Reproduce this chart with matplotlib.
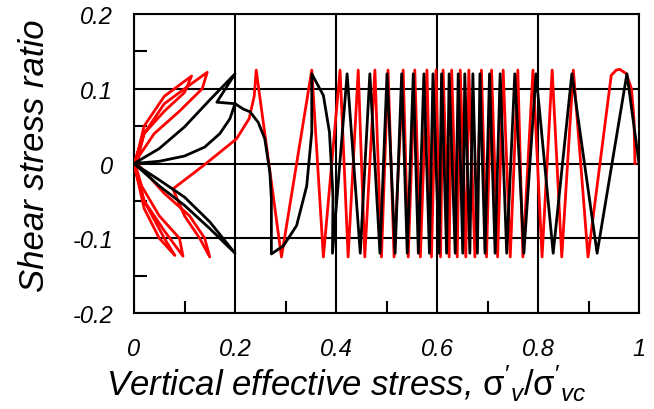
import numpy as np
import matplotlib
matplotlib.use("Agg")
import matplotlib.pyplot as plt

plt.rcParams['font.family'] = ['Liberation Sans', 'DejaVu Sans']
plt.rcParams['mathtext.fontset'] = 'custom'
plt.rcParams['mathtext.rm'] = 'Liberation Sans'
plt.rcParams['mathtext.it'] = 'Liberation Sans:italic'

# axis ticks / labels
x_ticks = [0, 0.2, 0.4, 0.6, 0.8, 1]
x_ticklabels = ['0', '0.2', '0.4', '0.6', '0.8', '1']
y_ticks = [-0.2, -0.1, 0, 0.1, 0.2]
y_ticklabels = ['-0.2', '-0.1', '0', '0.1', '0.2']
x_minor = [0.1, 0.3, 0.5, 0.7, 0.9]
y_minor = [-0.15, -0.05, 0.05, 0.15]

# ---- black test: cyclic phase (turning points, in time order) ----
black_amp = 0.12
black_peaks = [0.976, 0.867, 0.796, 0.754, 0.725, 0.704, 0.685, 0.671, 0.655, 0.642,
               0.624, 0.609, 0.592, 0.574, 0.553, 0.530, 0.501, 0.467, 0.422]
black_troughs = [0.917, 0.830, 0.772, 0.738, 0.715, 0.695, 0.680, 0.665, 0.651, 0.636,
                 0.619, 0.604, 0.585, 0.563, 0.541, 0.517, 0.487, 0.448, 0.393]
# last big cycles and butterfly loops
black_tail_x = [0.394, 0.393, 0.387, 0.375, 0.352, 0.352, 0.342, 0.322, 0.296, 0.272,
                0.272, 0.269, 0.259, 0.246, 0.230, 0.216, 0.200, 0.164, 0.200,
                0.150, 0.100, 0.050, 0.000,
                0.050, 0.100, 0.150, 0.200, 0.150, 0.100, 0.050, 0.000,
                0.050, 0.100, 0.140, 0.170, 0.190, 0.200]
black_tail_y = [-0.047, -0.030, 0.042, 0.091, 0.120, 0.042, -0.030, -0.083, -0.110, -0.121,
                -0.047, -0.012, 0.033, 0.055, 0.069, 0.073, 0.080, 0.082, 0.120,
                0.085, 0.049, 0.020, 0.000,
                -0.030, -0.056, -0.087, -0.120, -0.078, -0.045, -0.022, 0.000,
                0.003, 0.010, 0.022, 0.040, 0.060, 0.080]

# ---- red test ----
red_amp = 0.125
red_start_x = [0.992, 0.990, 0.985, 0.975, 0.962, 0.955, 0.945]
red_start_y = [0.000, 0.060, 0.100, 0.120, 0.126, 0.125, 0.118]
red_troughs = [0.899, 0.847, 0.808, 0.770, 0.745, 0.720, 0.698, 0.675, 0.657, 0.640,
               0.624, 0.607, 0.589, 0.567, 0.543, 0.515, 0.490, 0.457, 0.424, 0.375, 0.292]
red_peaks = [0.870, 0.828, 0.790, 0.760, 0.731, 0.708, 0.688, 0.663, 0.646, 0.629,
             0.612, 0.598, 0.580, 0.556, 0.533, 0.503, 0.477, 0.444, 0.408, 0.352, 0.242]
red_tail_x = [0.238, 0.228, 0.203, 0.137, 0.077, 0.100, 0.130, 0.150,
              0.140, 0.110, 0.060, 0.020, 0.005,
              0.020, 0.060, 0.100, 0.145, 0.135, 0.090, 0.040, 0.010, 0.003,
              0.020, 0.060, 0.097, 0.090, 0.050, 0.015, 0.002,
              0.020, 0.060, 0.114, 0.100, 0.060, 0.020, 0.000,
              0.020, 0.050, 0.081, 0.060, 0.020, 0.000]
red_tail_y = [0.090, 0.060, 0.033, -0.003, -0.034, -0.070, -0.100, -0.125,
              -0.100, -0.070, -0.040, -0.010, 0.000,
              0.040, 0.080, 0.100, 0.122, 0.100, 0.070, 0.040, 0.010, -0.010,
              -0.050, -0.090, -0.124, -0.100, -0.070, -0.030, 0.000,
              0.050, 0.090, 0.117, 0.095, 0.070, 0.040, 0.000,
              -0.060, -0.100, -0.123, -0.100, -0.050, 0.000]

# assemble paths
bx = [1.0]
by = [0.0]
for p, t in zip(black_peaks, black_troughs):
    bx += [p, t]
    by += [black_amp, -black_amp]
bx += black_tail_x
by += black_tail_y

rx = list(red_start_x)
ry = list(red_start_y)
for t, p in zip(red_troughs, red_peaks):
    rx += [t, p]
    ry += [-red_amp, red_amp]
rx += red_tail_x
ry += red_tail_y

fig = plt.figure(figsize=(6.54, 4.10), dpi=100)
ax = fig.add_axes([0.2049, 0.2341, 0.7722, 0.7293])

ax.plot(rx, ry, color='red', lw=2.0, zorder=3)
ax.plot(bx, by, color='black', lw=2.0, zorder=4)

ax.set_xlim(0, 1)
ax.set_ylim(-0.2, 0.2)
ax.set_xticks(x_ticks)
ax.set_xticklabels(x_ticklabels)
ax.set_yticks(y_ticks)
ax.set_yticklabels(y_ticklabels)
ax.set_xticks(x_minor, minor=True)
ax.set_yticks(y_minor, minor=True)
ax.tick_params(which='major', length=0, labelsize=17)
ax.tick_params(axis='x', which='major', pad=17)
ax.tick_params(axis='y', which='major', pad=15)
ax.tick_params(which='minor', direction='in', length=9, width=1.5)
for lab in ax.get_xticklabels() + ax.get_yticklabels():
    lab.set_fontstyle('italic')

ax.grid(True, which='major', color='black', lw=1.5)
ax.set_axisbelow(True)
for s in ax.spines.values():
    s.set_linewidth(1.5)

ax.set_xlabel(r"Vertical effective stress, $\mathrm{\sigma}'_{\mathit{v}}/\mathrm{\sigma}'_{\mathit{vc}}$",
              fontsize=25, fontstyle='italic')
ax.set_ylabel("Shear stress ratio", fontsize=25, fontstyle='italic')
ax.xaxis.set_label_coords(0.42, -0.165)
ax.yaxis.set_label_coords(-0.165, 0.53)

fig.savefig("out.png", dpi=100)
